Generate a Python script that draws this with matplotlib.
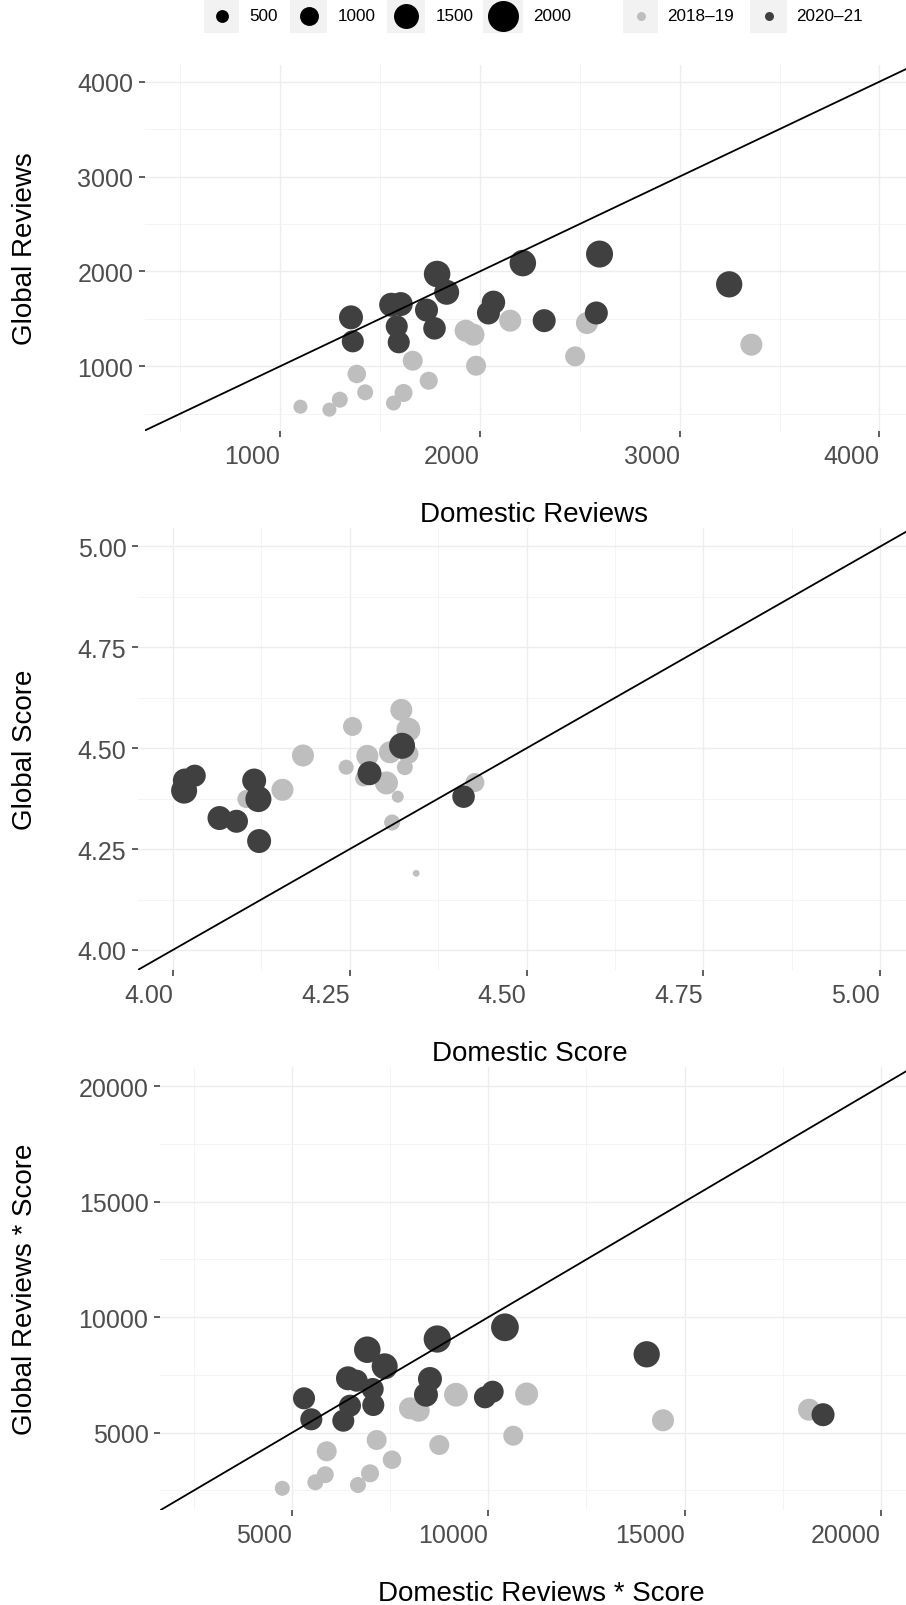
import matplotlib
matplotlib.use('Agg')
import matplotlib.pyplot as plt
from matplotlib.patches import Rectangle
import numpy as np

plt.rcParams['font.family'] = ['Liberation Sans', 'DejaVu Sans']

W, H = 906, 1606  # output size in px (dpi 100)

# ---- panel 1: number of reviews ----
rev_dom_1819 = [1102, 1247, 1299, 1384, 1426, 1568, 1618, 1664, 1744, 1929, 1968, 1981, 2152, 2536, 2477, 3359]
rev_glo_1819 = [574, 543, 648, 919, 726, 613, 719, 1059, 848, 1375, 1333, 1006, 1481, 1456, 1105, 1228]
rev_n_1819 = [600, 600, 760, 970, 760, 680, 930, 1090, 930, 1260, 1260, 1090, 1260, 1260, 1090, 1260]
rev_dom_2021 = [1355, 1364, 1556, 1604, 1584, 1594, 1786, 1834, 1733, 1773, 2215, 2068, 2043, 2322, 2599, 2583, 3248]
rev_glo_2021 = [1516, 1263, 1649, 1656, 1421, 1253, 1973, 1780, 1593, 1400, 2088, 1674, 1562, 1481, 2183, 1562, 1864]
rev_n_2021 = [1420, 1260, 1420, 1420, 1260, 1260, 1630, 1500, 1340, 1300, 1630, 1380, 1340, 1340, 1670, 1340, 1610]

# ---- panel 2: scores ----
sc_dom_1819 = [4.254, 4.184, 4.155, 4.104, 4.245, 4.323, 4.333, 4.275, 4.307, 4.333, 4.328, 4.269, 4.302, 4.318, 4.310, 4.427, 4.344]
sc_glo_1819 = [4.554, 4.482, 4.397, 4.374, 4.453, 4.595, 4.546, 4.481, 4.490, 4.486, 4.453, 4.425, 4.414, 4.380, 4.316, 4.415, 4.190]
sc_n_1819 = [1010, 1260, 1260, 930, 680, 1260, 1420, 1260, 1260, 1090, 760, 760, 1340, 430, 760, 1010, 0]
sc_dom_2021 = [4.031, 4.017, 4.016, 4.115, 4.121, 4.066, 4.090, 4.122, 4.324, 4.278, 4.411]
sc_glo_2021 = [4.432, 4.420, 4.395, 4.420, 4.374, 4.327, 4.319, 4.270, 4.506, 4.438, 4.380]
sc_n_2021 = [1260, 1420, 1590, 1420, 1590, 1420, 1340, 1420, 1590, 1420, 1300]

# ---- panel 3: reviews * score ----
rs_dom_1819 = [4753, 5594, 5848, 5884, 6681, 6987, 7157, 7547, 8006, 8227, 9177, 8752, 10978, 10637, 14452, 18172]
rs_glo_1819 = [2593, 2853, 3182, 4195, 2736, 3242, 4684, 3831, 6056, 5952, 6645, 4468, 6675, 4870, 5537, 5996]
rs_n_1819 = [680, 760, 840, 1090, 760, 930, 1090, 970, 1260, 1260, 1400, 1090, 1340, 1090, 1260, 1260]
rs_dom_2021 = [5306, 5492, 6426, 6648, 6918, 7361, 7055, 6477, 7071, 6307, 8515, 8413, 8701, 10112, 9916, 10425, 14036, 18529]
rs_glo_2021 = [6489, 5580, 7355, 7251, 8593, 7874, 6892, 6169, 6199, 5520, 7325, 6645, 9056, 6775, 6532, 9563, 8394, 5779]
rs_n_2021 = [1260, 1260, 1420, 1260, 1630, 1590, 1260, 1260, 1260, 1260, 1420, 1420, 1690, 1260, 1260, 1730, 1610, 1340]

size_breaks = [500, 1000, 1500, 2000]
periods = ['2018\u201319', '2020\u201321']
colors = ['#BEBEBE', '#404040']


def diam(v):  # point diameter in px
    return 6.8 + 0.0121 * np.asarray(v, float)


def area(v):
    return (diam(v) * 0.72) ** 2


fig = plt.figure(figsize=(W / 100, H / 100), dpi=100)


def px_axes(left, top, bottom, right=922):
    return fig.add_axes([left / W, 1 - bottom / H, (right - left) / W, (bottom - top) / H])


panels = [
    dict(box=(145, 66, 432), xlim=(324, 4213), ylim=(318, 4176),
         major=[1000, 2000, 3000, 4000], minor=[500, 1500, 2500, 3500], fmt='{:.0f}',
         xlab='Domestic Reviews', ylab='Global Reviews',
         data=[(rev_dom_1819, rev_glo_1819, rev_n_1819), (rev_dom_2021, rev_glo_2021, rev_n_2021)]),
    dict(box=(138, 528.6, 971), xlim=(3.9508, 5.059), ylim=(3.9504, 5.0468),
         major=[4.0, 4.25, 4.5, 4.75, 5.0], minor=[4.125, 4.375, 4.625, 4.875], fmt='{:.2f}',
         xlab='Domestic Score', ylab='Global Score',
         data=[(sc_dom_1819, sc_glo_1819, sc_n_1819), (sc_dom_2021, sc_glo_2021, sc_n_2021)]),
    dict(box=(160, 1067.7, 1511), xlim=(1637, 21050), ylim=(1654, 20844),
         major=[5000, 10000, 15000, 20000], minor=[2500, 7500, 12500, 17500], fmt='{:.0f}',
         xlab='Domestic Reviews * Score', ylab='Global Reviews * Score',
         data=[(rs_dom_1819, rs_glo_1819, rs_n_1819), (rs_dom_2021, rs_glo_2021, rs_n_2021)]),
]

for p in panels:
    left, top, bottom = p['box']
    ax = px_axes(left, top, bottom)
    for (x, y, n), c in zip(p['data'], colors):
        ax.scatter(x, y, s=area(n), color=c, linewidths=0, zorder=3)
    ax.axline((p['major'][0], p['major'][0]), slope=1, color='black', lw=1.3, zorder=4)
    ax.set_xlim(p['xlim'])
    ax.set_ylim(p['ylim'])
    ax.set_xticks(p['major'])
    ax.set_yticks(p['major'])
    ax.set_xticks(p['minor'], minor=True)
    ax.set_yticks(p['minor'], minor=True)
    labels = [p['fmt'].format(t) for t in p['major']]
    ax.set_xticklabels(labels, ha='right')
    ax.set_yticklabels(labels)
    for s in ax.spines.values():
        s.set_visible(False)
    ax.grid(which='major', color='#EDEDED', lw=1.0, zorder=0)
    ax.grid(which='minor', color='#F2F2F2', lw=0.6, zorder=0)
    ax.set_axisbelow(True)
    ax.tick_params(which='major', length=4, width=1.1, color='#333333',
                   labelsize=18, labelcolor='#4D4D4D')
    ax.tick_params(axis='x', pad=5.5)
    ax.tick_params(axis='y', pad=4.3)
    ax.tick_params(which='minor', length=0)
    fig.text((left + 922) / 2 / W, 1 - (bottom + 89.7) / H, p['xlab'],
             ha='center', va='baseline', fontsize=20)
    fig.text(25 / W, 1 - (top + bottom) / 2 / H, p['ylab'], rotation=90,
             ha='center', va='center', fontsize=20)

# ---- legend strip on top ----
leg = fig.add_axes([0, 1 - 40 / H, 1, 40 / H])
leg.set_xlim(0, W)
leg.set_ylim(40, 0)
leg.axis('off')
yc = 16.5
size_boxes = [(204, 239), (290, 327), (387, 425), (483, 523)]
for (x0, x1), v in zip(size_boxes, size_breaks):
    leg.add_patch(Rectangle((x0, 0), x1 - x0, 33.5, color='#F2F2F2', lw=0))
    leg.scatter([(x0 + x1) / 2], [yc], s=area(v), color='black', linewidths=0)
    leg.text(x1 + 10.5, yc, str(v), ha='left', va='center', fontsize=12.3)
col_boxes = [(623, 658), (750, 787)]
for (x0, x1), c, lab in zip(col_boxes, colors, periods):
    leg.add_patch(Rectangle((x0, 0), x1 - x0, 33.5, color='#F2F2F2', lw=0))
    leg.scatter([(x0 + x1) / 2], [yc], s=(9 * 0.72) ** 2, color=c, linewidths=0)
    leg.text(x1 + 9, yc, lab, ha='left', va='center', fontsize=12.3)

fig.savefig('out.png', dpi=100)
